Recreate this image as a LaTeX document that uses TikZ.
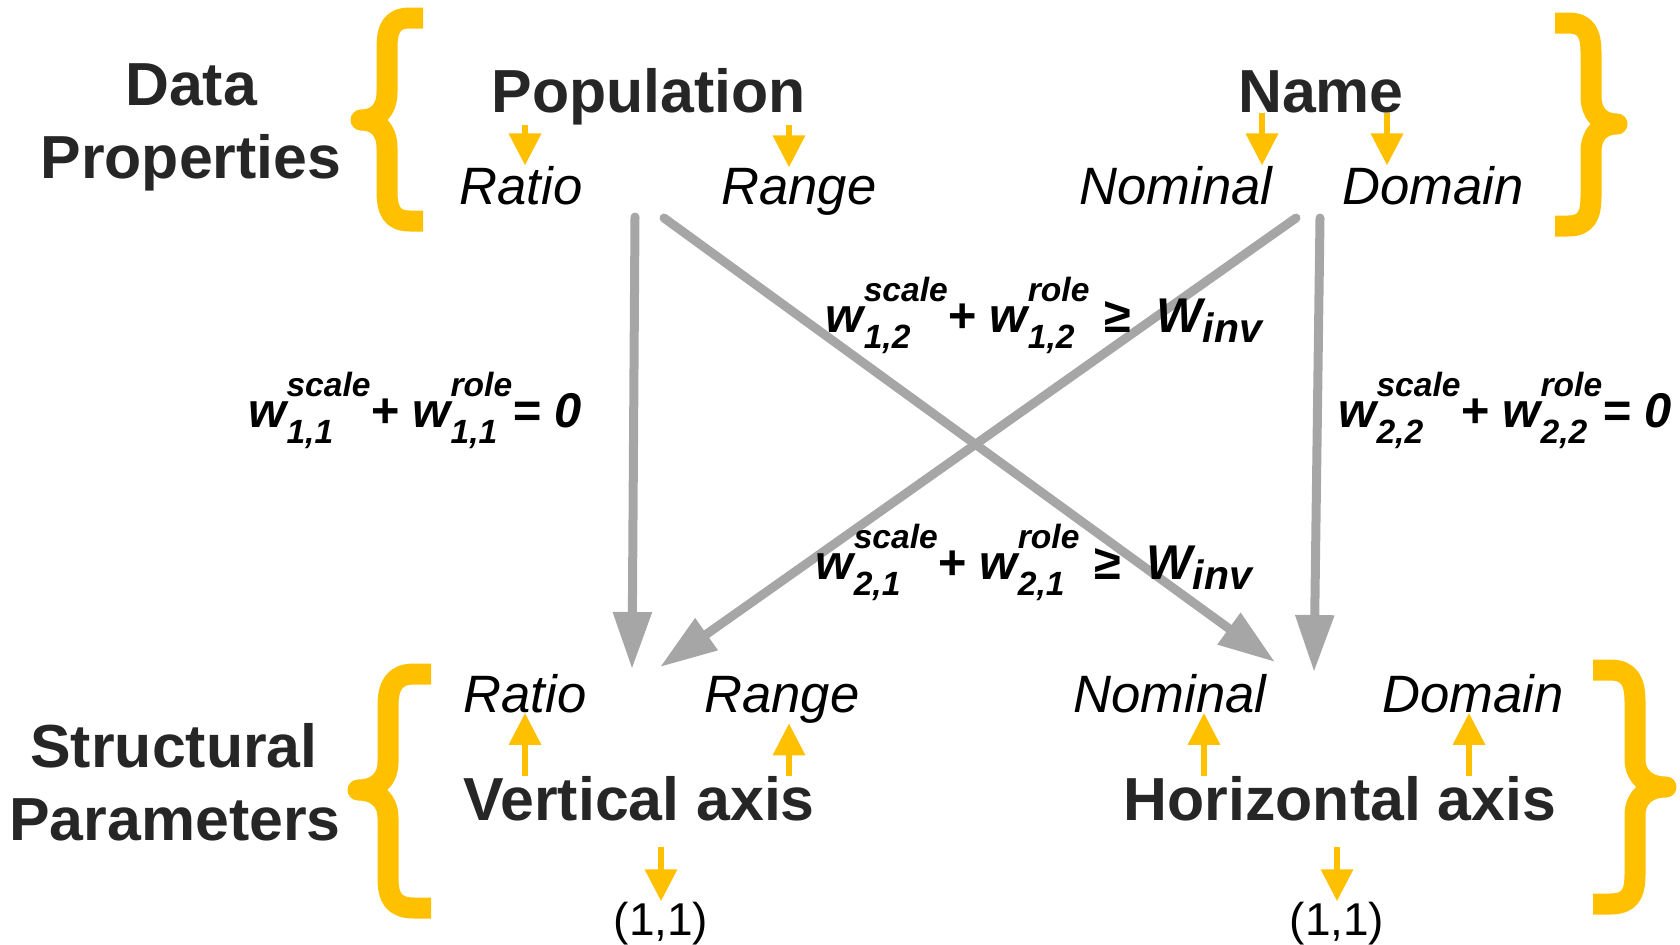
\documentclass[tikz,border=0pt]{standalone}
\usepackage{fontspec}
\setmainfont{Liberation Sans}
\usetikzlibrary{arrows.meta}

\definecolor{braceorange}{RGB}{255,192,0}
\definecolor{linkgray}{RGB}{166,166,166}
\definecolor{headdark}{RGB}{38,38,38}

% weight with scale/role on top and the index pair below
\newcommand{\wsc}[2]{w\raisebox{-8pt}{\fontsize{16.8}{18}\selectfont\rlap{#2}}\raisebox{15.5pt}{\fontsize{16.8}{18}\selectfont #1}}
\newcommand{\winv}{W\raisebox{-5pt}{\fontsize{20.5}{22}\selectfont inv}}

\begin{document}
\begin{tikzpicture}[x=0.5pt, y=-0.5pt,
    head/.style={font=\bfseries\fontsize{30.4}{32}\selectfont, text=headdark, anchor=base, inner sep=0pt},
    prop/.style={font=\itshape\fontsize{26.3}{28}\selectfont, anchor=base, inner sep=0pt},
    wlab/.style={font=\bfseries\itshape\fontsize{24.4}{26}\selectfont, anchor=base, inner sep=0pt},
    pair/.style={font=\fontsize{23}{25}\selectfont, anchor=base, inner sep=0pt},
    curly/.style={draw=braceorange, line width=10.5pt, line join=round},
    oarr/.style={draw=braceorange, line width=3.25pt, -{Triangle[width=15.5pt,length=16pt]}},
    garr/.style={draw=linkgray, line width=4.5pt, line cap=round, -{Triangle[width=18.5pt,length=28.5pt]}}]

    \useasboundingbox (0,0) rectangle (1680,944);

    % data properties
    \node[head] (dataA) at (191,105) {Data};
    \node[head] (dataB) at (191,178) {Properties};
    \node[head] (population) at (649,112) {Population};
    \node[head] (name) at (1321,112) {Name};

    \node[prop] (ratioT) at (521,204) {Ratio};
    \node[prop] (rangeT) at (799,204) {Range};
    \node[prop] (nominalT) at (1176,204) {Nominal};
    \node[prop] (domainT) at (1433,204) {Domain};

    % structural parameters
    \node[head] (structA) at (174,767) {Structural};
    \node[head] (structB) at (175,840) {Parameters};

    \node[prop] (ratioB) at (525,712) {Ratio};
    \node[prop] (rangeB) at (782,712) {Range};
    \node[prop] (nominalB) at (1170,712) {Nominal};
    \node[prop] (domainB) at (1473,712) {Domain};

    \node[head] (vaxis) at (639,820) {Vertical axis};
    \node[head] (haxis) at (1340,820) {Horizontal axis};

    \node[pair] (pairL) at (661,935) {(1,1)};
    \node[pair] (pairR) at (1337,935) {(1,1)};

    % braces
    \draw[curly] (423,18) -- (410,18) .. controls (392,18) and (387,28) .. (387,48) -- (387,92) .. controls (387,110) and (377,120) .. (361,120) .. controls (377,120) and (387,130) .. (387,148) -- (387,191) .. controls (387,211) and (392,221) .. (410,221) -- (423,221);
    \draw[curly] (1555,23) -- (1568,23) .. controls (1586,23) and (1591,33) .. (1591,53) -- (1591,96) .. controls (1591,114) and (1601,124) .. (1617,124) .. controls (1601,124) and (1591,134) .. (1591,152) -- (1591,196) .. controls (1591,216) and (1586,226) .. (1568,226) -- (1555,226);
    \draw[curly] (431,674) -- (414,674) .. controls (394,674) and (388,686) .. (388,706) -- (388,762) .. controls (388,780) and (376,790) .. (358,790) .. controls (376,790) and (388,800) .. (388,818) -- (388,878) .. controls (388,898) and (394,908) .. (414,908) -- (431,908);
    \draw[curly] (1593,670) -- (1610,670) .. controls (1630,670) and (1635,682) .. (1635,702) -- (1635,759) .. controls (1635,777) and (1648,787) .. (1666,787) .. controls (1648,787) and (1635,797) .. (1635,815) -- (1635,874) .. controls (1635,894) and (1630,904) .. (1610,904) -- (1593,904);

    % orange arrows
    \draw[oarr] ([xshift=2pt]population.south -| ratioT.north) -- ([xshift=2pt]ratioT.north);
    \draw[oarr] ([xshift=-5pt]population.south -| rangeT.north) -- ([xshift=-5pt]rangeT.north);
    \draw[oarr] ([xshift=43pt]name.south -| nominalT.north) -- ([xshift=43pt]nominalT.north);
    \draw[oarr] ([xshift=-23pt]name.south -| domainT.north) -- ([xshift=-23pt]domainT.north);

    \draw[oarr] (vaxis.north -| ratioB.south) -- (ratioB.south);
    \draw[oarr] ([xshift=3.5pt]vaxis.north -| rangeB.south) -- ([xshift=3.5pt]rangeB.south);
    \draw[oarr] ([xshift=17pt]haxis.north -| nominalB.south) -- ([xshift=17pt]nominalB.south);
    \draw[oarr] ([xshift=-2pt]haxis.north -| domainB.south) -- ([xshift=-2pt]domainB.south);

    \draw[oarr, shorten <=13pt] (vaxis.south -| pairL.north) -- (pairL.north);
    \draw[oarr, shorten <=13pt] (haxis.south -| pairR.north) -- (pairR.north);

    % gray links
    \coordinate (ratioOut) at (635,217);
    \coordinate (rangeOut) at (664,218);
    \coordinate (nominalOut) at (1296,218);
    \coordinate (domainOut) at (1320,218);
    \coordinate (vertIn) at (632,669);
    \coordinate (vertIn2) at (660,667);
    \coordinate (horIn) at (1275,662);
    \coordinate (horIn2) at (1314,672);

    \draw[garr] (ratioOut) -- (vertIn);
    \draw[garr] (rangeOut) -- (horIn);
    \draw[garr] (nominalOut) -- (vertIn2);
    \draw[garr] (domainOut) -- (horIn2);

    \node[wlab] (lab11) at (415,427) {\wsc{scale}{1,1}+ \wsc{role}{1,1}= 0};
    \node[wlab] (lab12) at (1044,332) {\wsc{scale}{1,2}+ \wsc{role}{1,2} ≥ \ \winv};
    \node[wlab] (lab21) at (1034,579) {\wsc{scale}{2,1}+ \wsc{role}{2,1} ≥ \ \winv};
    \node[wlab] (lab22) at (1505,427) {\wsc{scale}{2,2}+ \wsc{role}{2,2}= 0};

\end{tikzpicture}
\end{document}
